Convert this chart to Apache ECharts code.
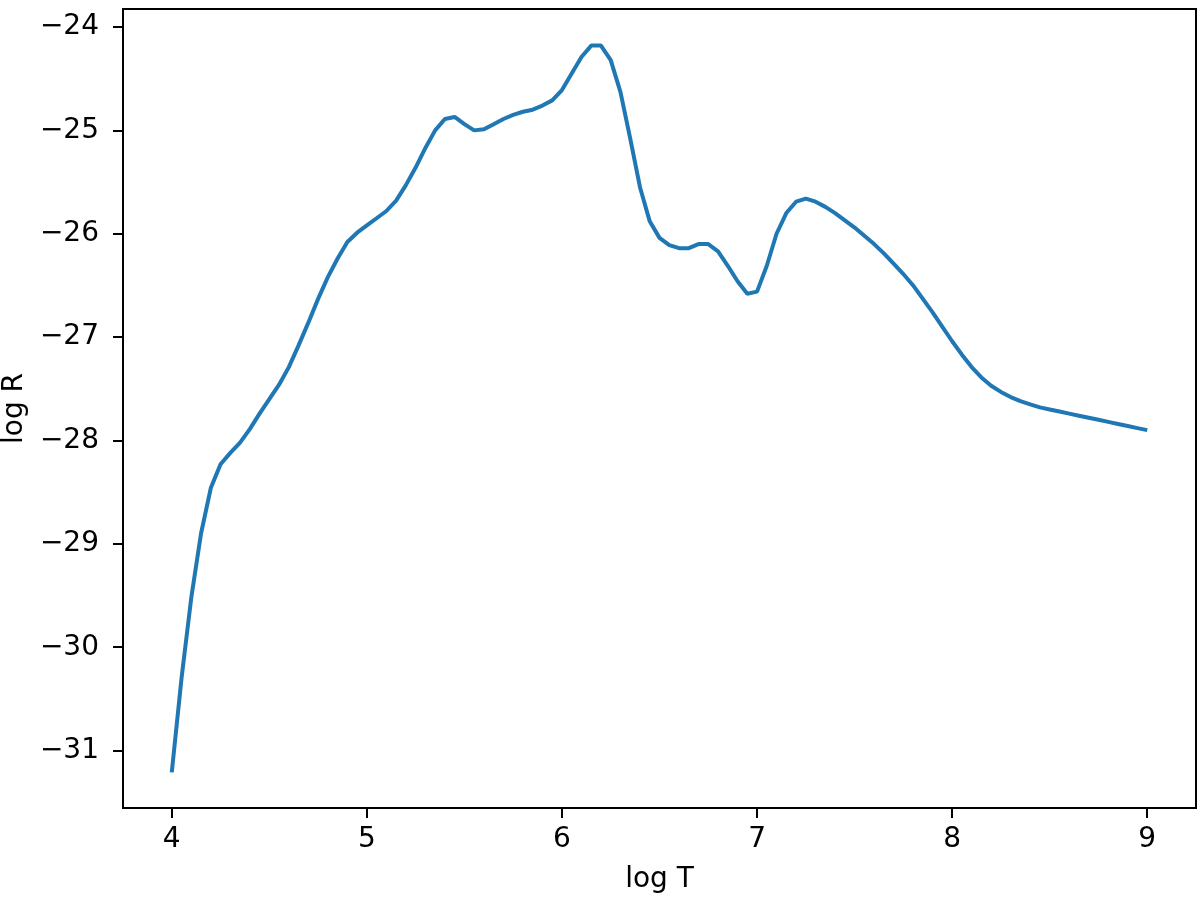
<!DOCTYPE html>
<html>
<head>
<meta charset="utf-8">
<title>log R vs log T</title>
<script src="https://cdn.jsdelivr.net/npm/echarts@6.0.0/dist/echarts.min.js"></script>
<style>
    html,body{margin:0;padding:0;background:#fff;}
    #main{width:1200px;height:905px;}
</style>
</head>
<body>
<div id="main"></div>
<script>
// x 坐标 (log T)
var logT = [
    4.00,4.05,4.10,4.15,4.20,4.25,4.30,4.35,4.40,4.45,
    4.50,4.55,4.60,4.65,4.70,4.75,4.80,4.85,4.90,4.95,
    5.00,5.05,5.10,5.15,5.20,5.25,5.30,5.35,5.40,5.45,
    5.50,5.55,5.60,5.65,5.70,5.75,5.80,5.85,5.90,5.95,
    6.00,6.05,6.10,6.15,6.20,6.25,6.30,6.35,6.40,6.45,
    6.50,6.55,6.60,6.65,6.70,6.75,6.80,6.85,6.90,6.95,
    7.00,7.05,7.10,7.15,7.20,7.25,7.30,7.35,7.40,7.45,
    7.50,7.55,7.60,7.65,7.70,7.75,7.80,7.85,7.90,7.95,
    8.00,8.05,8.10,8.15,8.20,8.25,8.30,8.35,8.40,8.45,
    8.50,8.55,8.60,8.65,8.70,8.75,8.80,8.85,8.90,8.95,
    9.00
];
// y 值 (log R)
var logR = [
    -31.21,-30.30,-29.52,-28.90,-28.46,-28.23,-28.12,-28.02,-27.89,-27.74,
    -27.60,-27.46,-27.29,-27.08,-26.86,-26.63,-26.42,-26.24,-26.08,-25.99,
    -25.92,-25.85,-25.78,-25.68,-25.53,-25.36,-25.17,-25.00,-24.89,-24.87,
    -24.94,-25.00,-24.99,-24.94,-24.89,-24.85,-24.82,-24.80,-24.76,-24.71,
    -24.61,-24.45,-24.29,-24.18,-24.18,-24.32,-24.63,-25.08,-25.55,-25.88,
    -26.04,-26.11,-26.14,-26.14,-26.10,-26.10,-26.17,-26.31,-26.46,-26.58,
    -26.56,-26.31,-26.00,-25.80,-25.69,-25.66,-25.69,-25.74,-25.80,-25.87,
    -25.94,-26.02,-26.10,-26.19,-26.29,-26.39,-26.50,-26.63,-26.76,-26.90,
    -27.04,-27.17,-27.29,-27.39,-27.47,-27.53,-27.58,-27.62,-27.65,-27.68,
    -27.70,-27.72,-27.74,-27.76,-27.78,-27.80,-27.82,-27.84,-27.86,-27.88,
    -27.90
];
// 刻度
var xTicks = [4,5,6,7,8,9];
var yTicks = [-31,-30,-29,-28,-27,-26,-25,-24];

var myChart = echarts.init(document.getElementById('main'), null, {renderer:'canvas'});

var pts = [];
for(var i=0;i<logT.length;i++){
    pts.push([logT[i], logR[i]]);
}

var fontFam = 'DejaVu Sans';
var minusFmt = function(v){
    return String(v).replace('-', '\u2212');
};

var option = {
    backgroundColor:'#fff',
    animation:false,
    grid:{
        left:123,
        right:4,
        top:9,
        bottom:97,
        outerBoundsMode:'none',
        containLabel:false,
        show:true,
        borderColor:'#000',
        borderWidth:2
    },
    xAxis:{
        type:'value',
        min:3.75,
        max:9.25,
        name:'log T',
        nameLocation:'middle',
        nameGap:58,
        nameTextStyle:{color:'#000',fontSize:28,fontFamily:fontFam},
        splitLine:{show:false},
        axisLine:{show:true,lineStyle:{color:'#000',width:2}},
        axisTick:{show:true,length:10,lineStyle:{color:'#000',width:2},customValues:xTicks},
        axisLabel:{
            color:'#000',fontSize:28,fontFamily:fontFam,margin:18,
            customValues:xTicks,
            formatter:minusFmt
        }
    },
    yAxis:{
        type:'value',
        min:-31.555,
        max:-23.826,
        name:'log R',
        nameLocation:'middle',
        nameGap:94,
        nameTextStyle:{color:'#000',fontSize:28,fontFamily:fontFam},
        splitLine:{show:false},
        axisLine:{show:true,lineStyle:{color:'#000',width:2}},
        axisTick:{show:true,length:10,lineStyle:{color:'#000',width:2},customValues:yTicks},
        axisLabel:{
            color:'#000',fontSize:28,fontFamily:fontFam,margin:24,
            customValues:yTicks,
            formatter:minusFmt
        }
    },
    series:[{
        type:'line',
        data:pts,
        showSymbol:false,
        lineStyle:{color:'#1f77b4',width:4},
        itemStyle:{color:'#1f77b4'}
    }]
};

myChart.setOption(option);
</script>
</body>
</html>
